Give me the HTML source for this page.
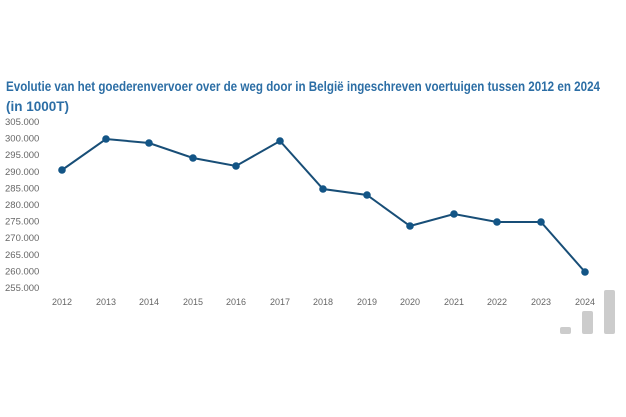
<!DOCTYPE html>
<html><head><style>
body{margin:0;background:#fff;}
svg{display:block;}
</style></head><body>
<svg width="626" height="417" xmlns="http://www.w3.org/2000/svg" font-family="Liberation Sans, sans-serif">
<rect width="626" height="417" fill="#fff"/>
<text x="6" y="91" font-size="13.5" font-weight="bold" fill="#2c6ea5" textLength="594" lengthAdjust="spacingAndGlyphs">Evolutie van het goederenvervoer over de weg door in België ingeschreven voertuigen tussen 2012 en 2024</text>
<text x="6" y="111" font-size="13.5" font-weight="bold" fill="#2c6ea5">(in 1000T)</text>
<g font-size="9.5" fill="#666">
<text x="5" y="125">305.000</text>
<text x="5" y="141.6">300.000</text>
<text x="5" y="158.2">295.000</text>
<text x="5" y="174.8">290.000</text>
<text x="5" y="191.4">285.000</text>
<text x="5" y="208">280.000</text>
<text x="5" y="224.6">275.000</text>
<text x="5" y="241.2">270.000</text>
<text x="5" y="257.8">265.000</text>
<text x="5" y="274.4">260.000</text>
<text x="5" y="291">255.000</text>
</g>
<g font-size="9" fill="#666" text-anchor="middle">
<text x="62" y="305">2012</text><text x="106" y="305">2013</text><text x="149" y="305">2014</text>
<text x="193" y="305">2015</text><text x="236" y="305">2016</text><text x="280" y="305">2017</text>
<text x="323" y="305">2018</text><text x="367" y="305">2019</text><text x="410" y="305">2020</text>
<text x="454" y="305">2021</text><text x="497" y="305">2022</text><text x="541" y="305">2023</text>
<text x="585" y="305">2024</text>
</g>
<polyline fill="none" stroke="#184e77" stroke-width="2" points="62,170 106,139 149,143 193,158 236,166 280,141 323,189 367,195 410,226 454,214 497,222 541,222 585,272"/>
<g fill="#135586">
<circle cx="62" cy="170" r="3.8"/><circle cx="106" cy="139" r="3.8"/><circle cx="149" cy="143" r="3.8"/>
<circle cx="193" cy="158" r="3.8"/><circle cx="236" cy="166" r="3.8"/><circle cx="280" cy="141" r="3.8"/>
<circle cx="323" cy="189" r="3.8"/><circle cx="367" cy="195" r="3.8"/><circle cx="410" cy="226" r="3.8"/>
<circle cx="454" cy="214" r="3.8"/><circle cx="497" cy="222" r="3.8"/><circle cx="541" cy="222" r="3.8"/>
<circle cx="585" cy="272" r="3.8"/>
</g>
<g fill="#cccccc">
<rect x="560" y="327" width="11" height="7" rx="2"/>
<rect x="582" y="311" width="11" height="23" rx="2"/>
<rect x="604" y="290" width="11" height="44" rx="2"/>
</g>
</svg>
</body></html>
